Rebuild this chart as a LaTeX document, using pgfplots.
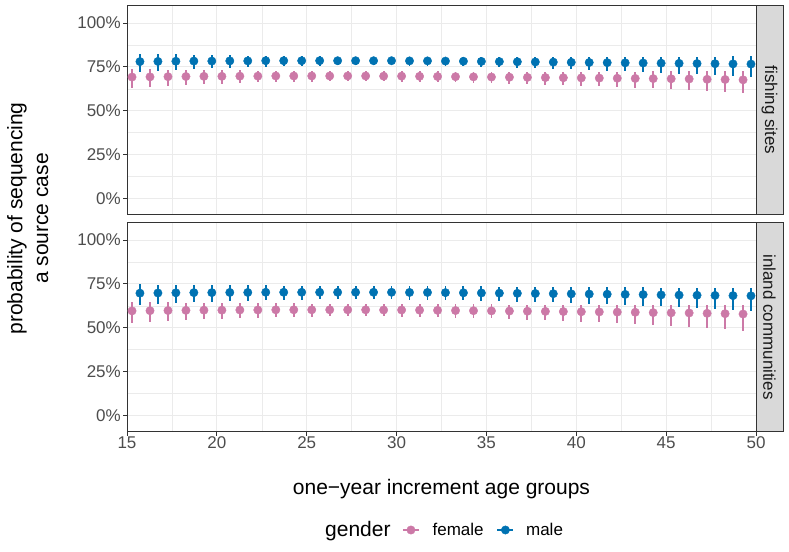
\documentclass[border=0pt]{standalone}
\usepackage{pgfplots}
\pgfplotsset{compat=1.18}
\usepackage{pgfplotstable}
\usepackage{fontspec}
\setmainfont{Liberation Sans}
\definecolor{cfemale}{HTML}{CC79A7}
\definecolor{cmale}{HTML}{0072B2}
\definecolor{grey10}{HTML}{1A1A1A}
\definecolor{grey20}{HTML}{333333}
\definecolor{grey30}{HTML}{4D4D4D}
\definecolor{grey85}{HTML}{D9D9D9}
\definecolor{grey92}{HTML}{EBEBEB}

% fishing sites, female
\pgfplotstableread{
x y em ep
15.28 69.2 6.0 4.5
16.28 69.3 5.55 4.25
17.28 69.4 5.2 4.0
18.28 69.5 4.8 3.8
19.28 69.6 4.4 3.6
20.28 69.6 4.1 3.45
21.28 69.7 3.9 3.3
22.28 69.7 3.6 3.15
23.28 69.8 3.45 3.05
24.28 69.8 3.3 2.95
25.28 69.8 3.15 2.9
26.28 69.8 3.05 2.85
27.28 69.8 3.0 2.8
28.28 69.8 3.0 2.8
29.28 69.7 3.0 2.8
30.28 69.7 3.05 2.8
31.28 69.6 3.1 2.85
32.28 69.5 3.2 2.9
33.28 69.4 3.3 2.95
34.28 69.3 3.35 3.0
35.28 69.2 3.5 3.05
36.28 69.1 3.7 3.15
37.28 69.0 3.8 3.2
38.28 68.9 4.05 3.3
39.28 68.8 4.2 3.4
40.28 68.7 4.5 3.5
41.28 68.6 4.7 3.6
42.28 68.5 5.0 3.75
43.28 68.4 5.3 3.9
44.28 68.3 5.6 4.1
45.28 68.2 6.0 4.25
46.28 68.1 6.3 4.4
47.28 67.9 6.7 4.6
48.28 67.8 7.1 4.8
49.28 67.6 7.5 5.0
}\fishF

% fishing sites, male
\pgfplotstableread{
x y em ep
15.72 78.0 6.0 4.5
16.72 78.1 5.5 4.2
17.72 78.2 5.1 3.9
18.72 78.3 4.6 3.6
19.72 78.3 4.2 3.4
20.72 78.4 3.9 3.2
21.72 78.4 3.6 3.0
22.72 78.5 3.3 2.8
23.72 78.5 3.1 2.7
24.72 78.5 2.9 2.6
25.72 78.5 2.8 2.5
26.72 78.5 2.7 2.4
27.72 78.5 2.6 2.4
28.72 78.5 2.6 2.4
29.72 78.5 2.6 2.4
30.72 78.4 2.65 2.4
31.72 78.4 2.7 2.45
32.72 78.3 2.8 2.5
33.72 78.2 2.9 2.5
34.72 78.1 3.0 2.6
35.72 78.0 3.1 2.6
36.72 77.9 3.3 2.7
37.72 77.8 3.5 2.8
38.72 77.7 3.7 2.9
39.72 77.6 3.9 3.0
40.72 77.5 4.2 3.1
41.72 77.4 4.5 3.2
42.72 77.3 4.8 3.3
43.72 77.2 5.1 3.5
44.72 77.1 5.4 3.6
45.72 77.0 5.8 3.8
46.72 76.9 6.2 3.9
47.72 76.8 6.6 4.1
48.72 76.7 7.1 4.3
49.72 76.6 7.5 4.5
}\fishM

% inland communities, female
\pgfplotstableread{
x y em ep
15.28 59.6 7.0 5.0
16.28 59.7 6.5 4.8
17.28 59.8 6.1 4.6
18.28 59.9 5.65 4.4
19.28 60.0 5.3 4.2
20.28 60.0 4.95 4.05
21.28 60.1 4.65 3.95
22.28 60.1 4.4 3.8
23.28 60.2 4.2 3.7
24.28 60.2 4.0 3.65
25.28 60.2 3.85 3.6
26.28 60.2 3.8 3.55
27.28 60.2 3.7 3.5
28.28 60.2 3.7 3.5
29.28 60.1 3.7 3.5
30.28 60.1 3.75 3.5
31.28 60.0 3.8 3.55
32.28 59.9 3.95 3.55
33.28 59.8 4.05 3.6
34.28 59.7 4.15 3.6
35.28 59.6 4.35 3.65
36.28 59.5 4.6 3.7
37.28 59.4 4.75 3.75
38.28 59.3 5.0 3.85
39.28 59.2 5.3 3.9
40.28 59.1 5.6 4.0
41.28 59.0 5.9 4.05
42.28 58.9 6.25 4.15
43.28 58.8 6.65 4.25
44.28 58.6 7.05 4.35
45.28 58.5 7.5 4.5
46.28 58.4 7.9 4.6
47.28 58.2 8.45 4.75
48.28 58.0 9.0 4.85
49.28 57.8 9.5 5.0
}\inlandF

% inland communities, male
\pgfplotstableread{
x y em ep
15.72 69.7 6.5 5.0
16.72 69.8 6.1 4.8
17.72 69.9 5.8 4.6
18.72 70.0 5.5 4.4
19.72 70.0 5.2 4.3
20.72 70.1 4.95 4.1
21.72 70.1 4.7 4.0
22.72 70.2 4.5 3.9
23.72 70.2 4.4 3.8
24.72 70.2 4.2 3.7
25.72 70.2 4.1 3.7
26.72 70.2 4.05 3.6
27.72 70.2 4.0 3.6
28.72 70.2 4.0 3.6
29.72 70.2 4.0 3.6
30.72 70.1 4.05 3.6
31.72 70.1 4.1 3.6
32.72 70.0 4.2 3.65
33.72 69.9 4.3 3.65
34.72 69.8 4.35 3.7
35.72 69.7 4.5 3.7
36.72 69.6 4.7 3.75
37.72 69.5 4.8 3.8
38.72 69.4 5.0 3.85
39.72 69.3 5.2 3.9
40.72 69.2 5.5 3.95
41.72 69.1 5.7 4.0
42.72 69.0 6.0 4.05
43.72 68.9 6.3 4.1
44.72 68.7 6.6 4.2
45.72 68.6 7.0 4.25
46.72 68.5 7.3 4.3
47.72 68.4 7.7 4.4
48.72 68.3 8.1 4.5
49.72 68.2 8.5 4.6
}\inlandM

\pgfplotsset{
  panel/.style={
    scale only axis, width=629bp, height=209bp,
    xmin=15, xmax=50, ymin=-9.2, ymax=110,
    xtick={15,20,25,30,35,40,45,50},
    minor xtick={17.5,22.5,27.5,32.5,37.5,42.5,47.5},
    ytick={0,25,50,75,100},
    minor ytick={12.5,37.5,62.5,87.5},
    yticklabels={0\%,25\%,50\%,75\%,100\%},
    xticklabels={15,20,25,30,35,40,45,50},
    grid=both,
    major grid style={color=grey92, line width=1bp},
    minor grid style={color=grey92, line width=0.5bp},
    minor tick length=0pt,
    major tick length=4bp,
    tick align=outside,
    xtick pos=left, ytick pos=left,
    tick style={color=grey20, line width=0.9bp},
    axis line style={color=grey20, line width=0.9bp},
    ticklabel style={font=\fontsize{17bp}{20bp}\selectfont, text=grey30},
    yticklabel style={inner sep=0pt, xshift=-2bp},
    xticklabel style={inner sep=0pt, yshift=-1bp},
  },
  fem/.style={only marks, mark=*, mark size=4.2bp, color=cfemale,
    mark options={draw=none, fill=cfemale},
    error bars/y dir=both, error bars/y explicit, error bars/error mark=none,
    error bars/error bar style={line width=1.9bp, color=cfemale}},
  mal/.style={only marks, mark=*, mark size=4.2bp, color=cmale,
    mark options={draw=none, fill=cmale},
    error bars/y dir=both, error bars/y explicit, error bars/error mark=none,
    error bars/error bar style={line width=1.9bp, color=cmale}},
}

\begin{document}
\begin{tikzpicture}
\useasboundingbox (0bp,0bp) rectangle (789bp,552bp);

\begin{axis}[panel, at={(127bp,337.5bp)}, anchor=south west,
  xticklabels={}, xtick style={draw=none}]
\addplot[fem] table[x=x, y=y, y error plus=ep, y error minus=em] {\fishF};
\addplot[mal] table[x=x, y=y, y error plus=ep, y error minus=em] {\fishM};
\end{axis}

\begin{axis}[panel, at={(127bp,120.5bp)}, anchor=south west,
  legend columns=-1,
  legend style={at={(axis description cs:0.4372,-0.4713)}, anchor=west,
    draw=none, fill=none, inner sep=0pt, outer sep=0pt,
    nodes={inner sep=0pt, text=black, font=\fontsize{17bp}{20bp}\selectfont},
    /tikz/every even column/.append style={column sep=12.8bp}}]
\addplot[forget plot, fem] table[x=x, y=y, y error plus=ep, y error minus=em] {\inlandF};
\addplot[forget plot, mal] table[x=x, y=y, y error plus=ep, y error minus=em] {\inlandM};
\addlegendimage{legend image code/.code={
  \draw[cfemale, line width=1.9bp] (0bp,0bp) -- (16bp,0bp);
  \fill[cfemale] (8bp,0bp) circle[radius=4.2bp];
  \path (29.5bp,0bp);}}
\addlegendentry{female}
\addlegendimage{legend image code/.code={
  \draw[cmale, line width=1.9bp] (0bp,0bp) -- (16bp,0bp);
  \fill[cmale] (8bp,0bp) circle[radius=4.2bp];
  \path (28.5bp,0bp);}}
\addlegendentry{male}
\end{axis}

% facet strips
\draw[grey20, line width=0.9bp, fill=grey85] (756bp,337.5bp) rectangle (783bp,546.5bp);
\draw[grey20, line width=0.9bp, fill=grey85] (756bp,120.5bp) rectangle (783bp,329.5bp);
\node[rotate=-90, inner sep=0pt, text=grey10, font=\fontsize{17bp}{20bp}\selectfont] at (769.5bp,442bp) {fishing sites};
\node[rotate=-90, inner sep=0pt, text=grey10, font=\fontsize{17bp}{20bp}\selectfont] at (769.5bp,225bp) {inland communities};

% titles
\node[inner sep=0pt, font=\fontsize{21bp}{25bp}\selectfont] at (441.5bp,63bp) {one−year increment age groups};
\node[rotate=90, inner sep=0pt, font=\fontsize{21bp}{25bp}\selectfont] at (17bp,333.5bp) {probability of sequencing};
\node[rotate=90, inner sep=0pt, font=\fontsize{21bp}{25bp}\selectfont] at (42.5bp,333.5bp) {a source case};
\node[anchor=west, inner sep=0pt, font=\fontsize{21bp}{25bp}\selectfont] at (325bp,21.2bp) {gender};
\end{tikzpicture}
\end{document}
